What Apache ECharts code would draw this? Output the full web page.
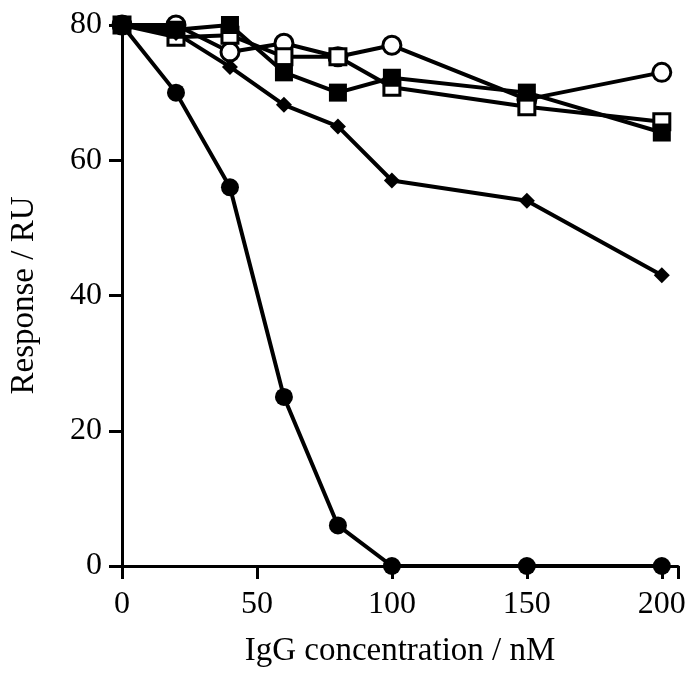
<!DOCTYPE html>
<html>
<head>
<meta charset="utf-8">
<script src="https://cdn.jsdelivr.net/npm/echarts@6/dist/echarts.min.js"></script>
<style>html,body{margin:0;padding:0;background:#fff;}#c{width:691px;height:676px;}</style>
</head>
<body>
<div id="c"></div>
<script>
var concentrations = [0, 20, 40, 60, 80, 100, 150, 200];
var openCircle   = [80, 80, 76, 77.3, 75.3, 77, 69, 73];
var openSquare   = [80, 78.2, 78.5, 75.3, 75.3, 70.8, 67.9, 65.7];
var filledDiamond= [80, 78.8, 73.8, 68.2, 65, 57, 54, 43];
var filledCircle = [80, 70, 56, 25, 6, 0, 0, 0];
var filledSquare = [80, 79.3, 80, 73, 70, 72.2, 70, 64.1];
var xTicks = [0, 50, 100, 150, 200];
var yTicks = [0, 20, 40, 60, 80];

function pairs(vals){ return concentrations.map(function(x,i){ return [x, vals[i]]; }); }
var font = 'Liberation Serif';
function mk(name, vals, symbol, size, filled){
  return {
    name: name, type: 'line', data: pairs(vals), symbol: symbol, symbolSize: size,
    lineStyle: {color: '#000', width: 4},
    itemStyle: {color: filled ? '#000' : '#fff', borderColor: '#000', borderWidth: filled ? 0 : 3},
    emphasis: {disabled: true}, animation: false
  };
}
var chart = echarts.init(document.getElementById('c'), null, {renderer: 'canvas'});
chart.setOption({
  backgroundColor: '#fff',
  animation: false,
  grid: {left: 117, right: 13, top: 25, bottom: 110, containLabel: false},
  xAxis: {
    type: 'value', min: 0, max: 206, interval: 50,
    name: 'IgG concentration / nM', nameLocation: 'middle', nameGap: 69,
    nameTextStyle: {fontFamily: font, fontSize: 33, color: '#000'},
    axisLine: {lineStyle: {color: '#000', width: 3}},
    axisTick: {show: true, length: 13, lineStyle: {color: '#000', width: 3}},
    axisLabel: {fontFamily: font, fontSize: 32, color: '#000', margin: 23,
      formatter: function(v){ return xTicks.indexOf(v) >= 0 ? String(v) : ''; }},
    splitLine: {show: false}
  },
  yAxis: {
    type: 'value', min: 0, max: 80, interval: 20,
    name: 'Response / RU', nameLocation: 'middle', nameGap: 81,
    nameTextStyle: {fontFamily: font, fontSize: 33, color: '#000'},
    axisLine: {lineStyle: {color: '#000', width: 3}},
    axisTick: {show: true, length: 13, lineStyle: {color: '#000', width: 3}},
    axisLabel: {fontFamily: font, fontSize: 32, color: '#000', margin: 20,
      formatter: function(v){ return yTicks.indexOf(v) >= 0 ? String(v) : ''; }},
    splitLine: {show: false}
  },
  series: [
    mk('open circle', openCircle, 'circle', 18, false),
    mk('open square', openSquare, 'rect', 16, false),
    mk('diamond', filledDiamond, 'diamond', 16, true),
    mk('filled circle', filledCircle, 'circle', 18, true),
    mk('filled square', filledSquare, 'rect', 18, true)
  ]
});
</script>
</body>
</html>
